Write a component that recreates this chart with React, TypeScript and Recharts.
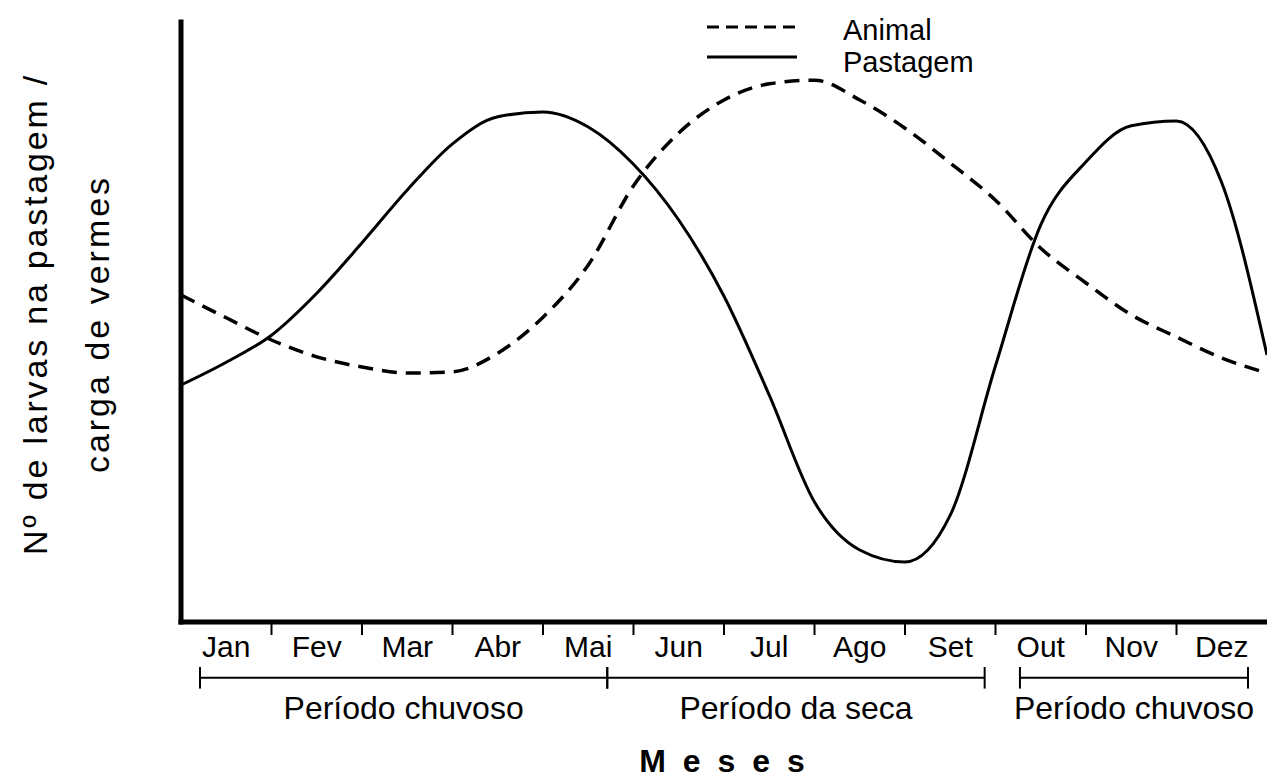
import React from 'react';
import { LineChart, Line, XAxis, YAxis, ReferenceLine, Legend } from 'recharts';

// months along the x axis (0 = start of Jan, 12 = end of Dez)
const monthNames = ['Jan', 'Fev', 'Mar', 'Abr', 'Mai', 'Jun', 'Jul', 'Ago', 'Set', 'Out', 'Nov', 'Dez'];
const monthPos = [0, 0.5, 1, 1.5, 2, 2.5, 3, 3.5, 4, 4.5, 5, 5.5, 6, 6.5, 7, 7.5, 8, 8.5, 9, 9.5, 10, 10.5, 11, 11.5, 12];

// relative level (0-100)
const pastagem = [39.5, 43.3, 47.8, 54.8, 63.2, 72, 79.7, 84.2, 85, 82.5, 76.3, 67, 54.3, 37.8, 20, 12, 10, 17.8, 42.7, 66.2, 76.7, 82.7, 83.5, 73.2, 44.5];
const animal = [54.5, 50.7, 47, 44.2, 42.5, 41.5, 41.7, 44.8, 50.8, 59.5, 72.7, 81.5, 87, 89.7, 90.3, 87, 82.3, 76.5, 70.3, 62.3, 56.5, 51.2, 47.5, 44, 41.5];

// seasons under the month labels (start / end in months)
const periodLabels = ['Período chuvoso', 'Período da seca', 'Período chuvoso'];
const periodStart = [0.21, 4.71, 9.27];
const periodEnd = [4.71, 8.88, 11.79];

const data = monthPos.map((m, i) => ({ m, pastagem: pastagem[i], animal: animal[i] }));

const monthTicks = [...monthNames.map((_, i) => i + 0.5), 1, 2, 3, 4, 5, 6, 7, 8, 9, 10, 11].sort((a, b) => a - b);
const periodCenters = periodStart.map((s, i) => (s + periodEnd[i]) / 2);

const SANS = "'Liberation Sans', Arial, sans-serif";
const BRACKET_Y = -9.3; // below the x axis, in value units
const BRACKET_TICK = 1.8;

const series = [
  { key: 'animal', name: 'Animal', dash: '15 9', legendDash: '12 7' },
  { key: 'pastagem', name: 'Pastagem', dash: undefined, legendDash: undefined },
];

const MonthTick = (props: any) => {
  const { x, y, payload } = props;
  const v = payload.value;
  if (Number.isInteger(v)) {
    return <line x1={x} y1={y + 2} x2={x} y2={y + 13} stroke="#000" strokeWidth={2} />;
  }
  return (
    <text x={x} y={y + 35} textAnchor="middle" fill="#000" fontSize={30} fontFamily={SANS}>
      {monthNames[Math.floor(v)]}
    </text>
  );
};

const PeriodTick = (props: any) => {
  const { x, y, payload } = props;
  const idx = periodCenters.indexOf(payload.value);
  return (
    <text x={x} y={y + 47} textAnchor="middle" fill="#000" fontSize={32} fontFamily={SANS}>
      {periodLabels[idx]}
    </text>
  );
};

const YLabel = (props: any) => {
  const vb = props.viewBox || { x: 171, y: 22, width: 10, height: 600 };
  const left = vb.x + vb.width;
  const cy = vb.y + vb.height / 2;
  const x1 = left - 134;
  const x2 = left - 72;
  return (
    <g fill="#000" fontSize={34} fontFamily={SANS}>
      <text x={x1} y={cy - 8} textAnchor="middle" letterSpacing={2.8} transform={`rotate(-90 ${x1} ${cy - 8})`}>
        Nº de larvas na pastagem /
      </text>
      <text x={x2} y={cy + 2} textAnchor="middle" letterSpacing={3} transform={`rotate(-90 ${x2} ${cy + 2})`}>
        carga de vermes
      </text>
    </g>
  );
};

const LegendContent = (props: any) => {
  const payload = props.payload || [];
  return (
    <svg width={320} height={85}>
      {payload.map((entry: any, i: number) => {
        const cfg = series.find((s) => s.key === entry.dataKey) || series[i];
        const ly = 27 + i * 30;
        return (
          <g key={cfg.key}>
            <line x1={7} y1={ly} x2={97} y2={ly} stroke="#000" strokeWidth={3} strokeDasharray={cfg.legendDash} />
            <text x={143} y={40 + i * 32} fill="#000" fontSize={29} fontFamily={SANS}>
              {cfg.name}
            </text>
          </g>
        );
      })}
    </svg>
  );
};

export default function App() {
  return (
    <div style={{ position: 'absolute', left: 0, top: 0, background: '#fff' }}>
      <LineChart width={1267} height={780} data={data} margin={{ top: 22, right: 0, left: 171, bottom: 0 }}>
        <XAxis
          dataKey="m"
          type="number"
          domain={[0, 12]}
          ticks={monthTicks}
          interval={0}
          height={50}
          tickSize={0}
          tickMargin={0}
          tickLine={false}
          tick={<MonthTick />}
          axisLine={{ stroke: '#000', strokeWidth: 5, strokeLinecap: 'square' }}
        />
        <XAxis
          xAxisId="periodo"
          dataKey="m"
          type="number"
          domain={[0, 12]}
          ticks={periodCenters}
          interval={0}
          height={108}
          tickSize={0}
          tickMargin={0}
          tickLine={false}
          axisLine={false}
          tick={<PeriodTick />}
          label={{
            value: 'M e s e s',
            position: 'insideBottom',
            offset: 8,
            fill: '#000',
            fontSize: 32,
            fontWeight: 'bold',
            fontFamily: SANS,
            letterSpacing: 4,
          }}
        />
        <YAxis
          domain={[0, 100]}
          width={10}
          tick={false}
          tickLine={false}
          axisLine={{ stroke: '#000', strokeWidth: 5, strokeLinecap: 'square' }}
          label={{ content: YLabel }}
        />
        {periodStart.map((s, i) => (
          <ReferenceLine
            key={`b${i}`}
            segment={[{ x: s, y: BRACKET_Y }, { x: periodEnd[i], y: BRACKET_Y }]}
            stroke="#000"
            strokeWidth={2}
            ifOverflow="visible"
          />
        ))}
        {[...periodStart, ...periodEnd].map((p, i) => (
          <ReferenceLine
            key={`t${i}`}
            segment={[{ x: p, y: BRACKET_Y + BRACKET_TICK }, { x: p, y: BRACKET_Y - BRACKET_TICK }]}
            stroke="#000"
            strokeWidth={2}
            ifOverflow="visible"
          />
        ))}
        <Legend
          layout="horizontal"
          verticalAlign="middle"
          align="center"
          content={<LegendContent />}
          wrapperStyle={{ left: 700, top: 0, width: 320, height: 85 }}
        />
        {series.map((s) => (
          <Line
            key={s.key}
            dataKey={s.key}
            name={s.name}
            type="monotone"
            stroke="#000"
            strokeWidth={s.dash ? 3.5 : 3}
            strokeDasharray={s.dash}
            dot={false}
            activeDot={false}
            isAnimationActive={false}
          />
        ))}
      </LineChart>
    </div>
  );
}
